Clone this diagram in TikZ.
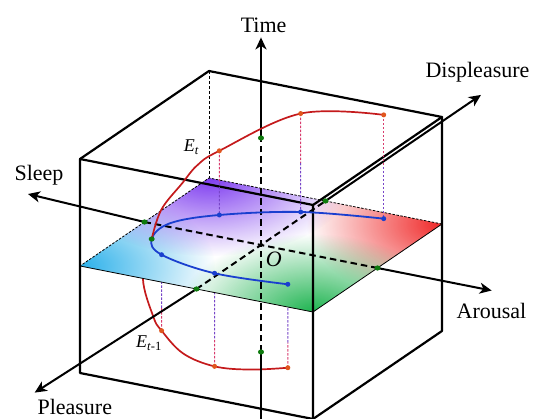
\documentclass[tikz,border=0pt]{standalone}
\usepackage{fontspec}
\setmainfont{Liberation Serif}
\usetikzlibrary{calc,arrows.meta,fadings}
\definecolor{curvered}{HTML}{C41A1C}
\definecolor{curveblue}{HTML}{1A3FCF}
\definecolor{dotorange}{HTML}{E0561E}
\definecolor{dotgreen}{HTML}{0E7A0E}
\definecolor{dropred}{HTML}{D83C6E}
\definecolor{droppurple}{HTML}{7846C8}
\definecolor{planeblue}{HTML}{2AB0EA}
\definecolor{planepurple}{HTML}{7E3CF0}
\definecolor{planered}{HTML}{F02828}
\definecolor{planegreen}{HTML}{1EB450}
\tikzset{
  cubeedge/.style={line width=2.2pt, line join=round},
  axisline/.style={line width=2pt},
  axisarrow/.style={axisline, -{Stealth[length=12pt, width=11pt, inset=3.5pt]}},
  axisdash/.style={axisline, dash pattern=on 6.5pt off 4pt},
  planeline/.style={line width=0.8pt},
  planedash/.style={line width=0.8pt, dash pattern=on 2.5pt off 1.5pt},
  drop/.style={line width=0.9pt, dash pattern=on 2.5pt off 1.5pt},
  lbl/.style={inner sep=0pt, anchor=base, font=\fontsize{22}{26}\selectfont},
  elbl/.style={inner sep=0pt, anchor=base west, font=\fontsize{18}{22}\selectfont}
}
\tikzfading[name=cornerfade, inner color=transparent!0, outer color=transparent!100]

\begin{document}
\begin{tikzpicture}[x={(116.5pt,-23pt)}, y={(64.5pt,44pt)}, z={(0pt,107pt)}]
  \useasboundingbox (-261pt,-174pt) rectangle (272pt,245pt);
  % cube corners and the mid plane
  \coordinate (fbl) at (-1,-1,-1); \coordinate (fbr) at (1,-1,-1);
  \coordinate (ftl) at (-1,-1,1);  \coordinate (ftr) at (1,-1,1);
  \coordinate (btl) at (-1,1,1);   \coordinate (btr) at (1,1,1);
  \coordinate (bbr) at (1,1,-1);
  \coordinate (pfl) at (-1,-1,0);  \coordinate (pfr) at (1,-1,0);
  \coordinate (pbr) at (1,1,0);    \coordinate (pbl) at (-1,1,0);
  % axes
  \coordinate (O) at (0,0,0);
  \coordinate (tbot) at (0,0,-1.65); \coordinate (tlow) at (0,0,-1);
  \coordinate (thigh) at (0,0,1);    \coordinate (ttip) at (0,0,1.94);
  \coordinate (sleepin) at (-1,0,0); \coordinate (sleeptip) at ($(-2,0,0)+(0,5pt)$);
  \coordinate (arousin) at (1,0,0);  \coordinate (aroustip) at (1.98,0,0);
  \coordinate (pleasin) at (0,-1,0); \coordinate (pleastip) at ($(0,-3.4,0)+(-7pt,2pt)$);
  \coordinate (dispin) at (0,1,0);   \coordinate (disptip) at (0,3.41,0);
  % trajectory in the plane
  \coordinate (B1) at (-0.570,0.384,0); \coordinate (B2) at (-0.058,0.720,0);
  \coordinate (B3) at (0.560,0.891,0);  \coordinate (Ba) at (-0.818,0.066,0);
  \coordinate (G) at (-0.786,-0.275,0);
  \coordinate (B4) at (-0.567,-0.517,0); \coordinate (B5) at (-0.033,-0.660,0);
  \coordinate (B6) at (0.562,-0.599,0);
  % lifted trajectories
  \coordinate (Ra) at (-0.8,-0.1,0.2);  \coordinate (Rb) at (-0.72,0.08,0.39);
  \coordinate (Rc) at (-0.68,0.24,0.5); \coordinate (R1) at (-0.570,0.384,0.60);
  \coordinate (R2) at (-0.058,0.720,0.92);
  \coordinate (R3) at (0.560,0.891,0.97);
  \coordinate (La) at (-0.82,-0.35,-0.34); \coordinate (Lb) at (-0.675,-0.45,-0.63);
  \coordinate (L1) at (-0.567,-0.517,-0.71); \coordinate (Lc) at (-0.335,-0.6,-0.84);
  \coordinate (L2) at (-0.033,-0.660,-0.87); \coordinate (Ld) at (0.265,-0.65,-0.84);
  \coordinate (L3) at (0.562,-0.599,-0.78);

  % lower part, under the plane
  \draw[curvered, line width=1.7pt] plot[smooth, tension=0.6] coordinates {(G) (La) (Lb) (L1) (Lc) (L2) (Ld) (L3)};
  \foreach \l/\b in {L1/B4, L2/B5, L3/B6} {
    \draw[drop, dropred] (\l) -- ($(\l)!0.3!(\b)$);
    \draw[drop, droppurple] ($(\l)!0.3!(\b)$) -- (\b);
  }
  \draw[line width=0.8pt, dash pattern=on 3pt off 2pt] (btl) -- (pbl);

  % the plane
  \fill[white] (pfl) -- (pfr) -- (pbr) -- (pbl) -- cycle;
  \begin{scope}
    \clip (pfl) -- (pfr) -- (pbr) -- (pbl) -- cycle;
    \fill[planeblue, path fading=cornerfade] (pfl) ellipse [x radius=135pt, y radius=80pt];
    \fill[planepurple, path fading=cornerfade] (pbl) ellipse [x radius=145pt, y radius=78pt];
    \fill[planered, path fading=cornerfade] (pbr) ellipse [x radius=135pt, y radius=80pt];
    \fill[planegreen, path fading=cornerfade] (pfr) ellipse [x radius=135pt, y radius=78pt];
  \end{scope}
  \draw[planeline] (pfl) -- (pfr) -- (pbr);
  \draw[planedash] (pbr) -- (pbl) -- (pfl);

  % cube
  \draw[cubeedge] (fbl) -- (fbr) -- (ftr) -- (ftl) -- cycle;
  \draw[cubeedge] (ftl) -- (btl) -- (btr) -- (ftr);
  \draw[cubeedge] (btr) -- (bbr) -- (fbr);

  % axes
  \draw[axisline] (tbot) -- (tlow);
  \draw[axisdash] (tlow) -- (thigh);
  \draw[axisarrow] (thigh) -- (ttip);
  \draw[axisdash] (sleepin) -- (arousin);
  \draw[axisarrow] (sleepin) -- (sleeptip);
  \draw[axisarrow] (arousin) -- (aroustip);
  \draw[axisdash] (pleasin) -- (dispin);
  \draw[axisarrow] (pleasin) -- (pleastip);
  \draw[axisarrow] (dispin) -- (disptip);

  % upper part
  \draw[curveblue, line width=1.8pt] plot[smooth, tension=0.6] coordinates {(B3) (B2) (B1) (Ba) (G) (B4) (B5) (B6)};
  \draw[curvered, line width=1.7pt] plot[smooth, tension=0.6] coordinates {(G) (Ra) (Rb) (Rc) (R1) (R2) (R3)};
  \foreach \r/\b in {R1/B1, R2/B2, R3/B3} {
    \draw[drop, dropred] (\r) -- ($(\r)!0.5!(\b)$);
    \draw[drop, droppurple] ($(\r)!0.5!(\b)$) -- (\b);
  }

  % dots
  \foreach \p in {B1, B2, B3, B4, B5, B6}
    \fill[curveblue] (\p) circle (2.5pt);
  \foreach \p in {R1, R2, R3, L1, L2, L3}
    \fill[dotorange] (\p) circle (2.5pt);
  \foreach \p in {G, sleepin, arousin, pleasin, dispin, thigh, tlow}
    \fill[dotgreen] (\p) ellipse [x radius=3pt, y radius=2.6pt];

  % labels
  \node[lbl] (timelbl) at (2.6pt,212.7pt) {Time};
  \node[lbl] (displbl) at (216.5pt,167.3pt) {Displeasure};
  \node[lbl] (sleeplbl) at (-222pt,64pt) {Sleep};
  \node[lbl] (arouslbl) at (230.5pt,-74pt) {Arousal};
  \node[lbl] (pleaslbl) at (-186.2pt,-170pt) {Pleasure};
  \node[lbl] (olbl) at (12.8pt,-21.7pt) {\textit{O}};
  \node[elbl] (etlbl) at (-77.3pt,93.3pt) {\textit{E}\textsubscript{\textit{t}}};
  \node[elbl] (etprevlbl) at (-125pt,-102.7pt) {\textit{E}\textsubscript{\textit{t}-1}};
\end{tikzpicture}
\end{document}
